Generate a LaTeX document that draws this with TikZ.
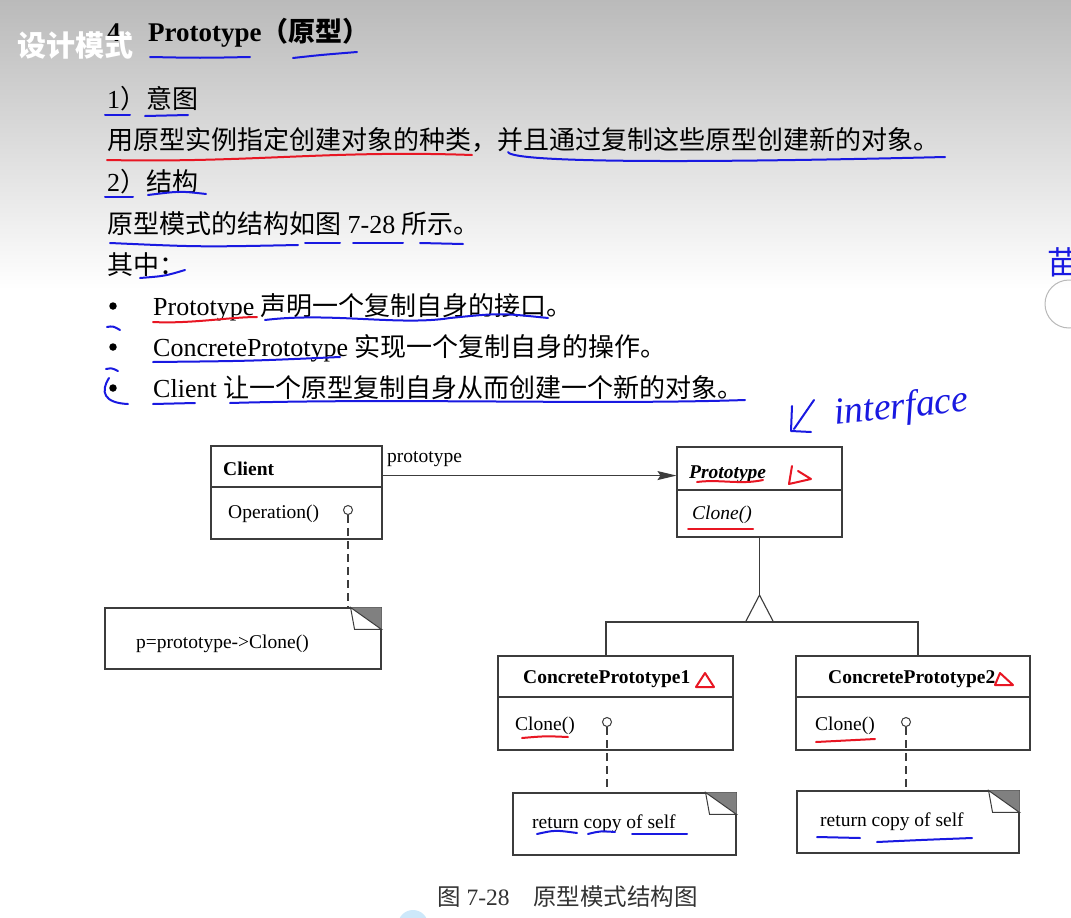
\documentclass[tikz,border=0pt]{standalone}
\usepackage{fontspec}
\setmainfont{Liberation Serif}
\newfontfamily\cjk{Noto Sans CJK SC}
\usetikzlibrary{arrows.meta, calc}
\definecolor{umlGray}{RGB}{60,60,60}
\definecolor{foldGray}{RGB}{128,128,128}
\definecolor{handBlue}{RGB}{25,25,225}
\definecolor{handRed}{RGB}{232,22,35}
\definecolor{blobBlue}{RGB}{205,232,250}
\newcommand{\notefold}[1]{%
    \fill[foldGray] ([xshift=-31pt]#1.north east) -- (#1.north east) -- ([yshift=-22pt]#1.north east) -- cycle;
    \filldraw[fill=white, draw=umlGray, line width=1pt] ([xshift=-31pt]#1.north east) -- ([xshift=-27pt,yshift=-22pt]#1.north east) -- ([yshift=-22pt]#1.north east) -- cycle;}

\begin{document}
\begin{tikzpicture}[
    x=1pt, y=-1pt,
    font=\fontsize{19.5}{22}\selectfont,
    body/.style={anchor=base west, inner sep=0pt, font=\fontsize{26}{30}\selectfont},
    umltext/.style={anchor=base west, inner sep=0pt},
    umlline/.style={draw=umlGray, line width=1.1pt},
    classbox/.style={umlline, inner sep=0pt},
    notebox/.style={umlline, inner sep=0pt, fill=white},
    opdot/.style={circle, umlline, line width=1pt, fill=white, inner sep=0pt, minimum size=9pt},
    bulletdot/.style={circle, fill=black, inner sep=0pt, minimum size=7.5pt},
    inkblue/.style={draw=handBlue, line width=2pt, line cap=round, line join=round},
    inkred/.style={draw=handRed, line width=2pt, line cap=round, line join=round}
]
    \useasboundingbox (0,0) rectangle (1071,918);
    \clip (0,0) rectangle (1071,918);
    \shade[top color=black!27, bottom color=white] (0,0) rectangle (1071,290);
    \fill[white] (0,290) rectangle (1071,918);

    % slide text
    \node[body, font=\fontsize{27}{30}\selectfont\bfseries] (title_num) at (107,41) {4};
    \node[anchor=base west, inner sep=0pt, text=white, font=\cjk\bfseries\fontsize{29}{30}\selectfont] (topic) at (17,56) {设计模式};
    \node[body, font=\fontsize{27}{30}\selectfont\bfseries] (title) at (148,41) {Prototype{\cjk\bfseries（原型）}};
    \node[body] (intent_head) at (107,108) {1{\cjk）意图}};
    \node[body] (intent_text) at (107,149) {\cjk 用原型实例指定创建对象的种类，并且通过复制这些原型创建新的对象。};
    \node[body] (struct_head) at (107,191) {2{\cjk）结构}};
    \node[body] (struct_text) at (107,233) {{\cjk 原型模式的结构如图} 7-28 {\cjk 所示。}};
    \node[body] (where_text) at (107,274) {\cjk 其中：};
    \foreach \yy/\name in {315/proto, 356/concrete, 397/client} {
        \node[bulletdot] (dot_\name) at (113,\yy-9) {};
    }
    \node[body] (item_proto) at (153,315) {Prototype {\cjk 声明一个复制自身的接口。}};
    \node[body] (item_concrete) at (153,356) {ConcretePrototype {\cjk 实现一个复制自身的操作。}};
    \node[body] (item_client) at (153,397) {Client {\cjk 让一个原型复制自身从而创建一个新的对象。}};

    % class diagram
    \node[classbox, minimum width=171pt, minimum height=93pt] (client) at (296.5,492.5) {};
    \draw[umlline] (client.west |- 0,487) -- (client.east |- 0,487);
    \node[umltext, font=\fontsize{19.5}{22}\selectfont\bfseries] (client_name) at (223,475) {Client};
    \node[umltext] (client_op) at (228,518) {Operation()};
    \node[opdot] (op_client) at (348,510) {};

    \node[classbox, minimum width=165pt, minimum height=90pt] (proto) at (759.5,492) {};
    \draw[umlline] (proto.west |- 0,490) -- (proto.east |- 0,490);
    \node[umltext, font=\fontsize{19.5}{22}\selectfont\bfseries\itshape] (proto_name) at (689,478) {Prototype};
    \node[umltext, font=\fontsize{19.5}{22}\selectfont\itshape] (proto_op) at (692,519) {Clone()};

    \node[classbox, minimum width=235pt, minimum height=94pt] (cp_one) at (615.5,703) {};
    \draw[umlline] (cp_one.west |- 0,697) -- (cp_one.east |- 0,697);
    \node[umltext, font=\fontsize{19.5}{22}\selectfont\bfseries] (cp_one_name) at (523,683) {ConcretePrototype1};
    \node[umltext] (cp_one_op) at (515,730) {Clone()};
    \node[opdot] (op_one) at (607,722) {};

    \node[classbox, minimum width=234pt, minimum height=94pt] (cp_two) at (913,703) {};
    \draw[umlline] (cp_two.west |- 0,697) -- (cp_two.east |- 0,697);
    \node[umltext, font=\fontsize{19.5}{22}\selectfont\bfseries] (cp_two_name) at (828,683) {ConcretePrototype2};
    \node[umltext] (cp_two_op) at (815,730) {Clone()};
    \node[opdot] (op_two) at (906,722) {};

    \node[notebox, minimum width=276pt, minimum height=61pt] (note_client) at (243,638.5) {};
    \node[umltext] (note_client_txt) at (136,648) {p=prototype->Clone()};
    \notefold{note_client}
    \node[notebox, minimum width=223pt, minimum height=62pt] (note_one) at (624.5,824) {};
    \node[umltext] (note_one_txt) at (532,828) {return copy of self};
    \notefold{note_one}
    \node[notebox, minimum width=222pt, minimum height=62pt] (note_two) at (908,822) {};
    \node[umltext] (note_two_txt) at (820,826) {return copy of self};
    \notefold{note_two}

    \draw[umlline, dash pattern=on 8pt off 5pt] (op_client) -- (op_client |- note_client.north);
    \draw[umlline, dash pattern=on 8pt off 5pt] (op_one) -- (op_one |- note_one.north);
    \draw[umlline, dash pattern=on 8pt off 5pt] (op_two) -- (op_two |- note_two.north);

    \draw[umlline, -{Stealth[length=19pt, width=9pt, inset=3pt]}] ($(client.north east)!0.32!(client.south east)$) coordinate (assoc_start) -- (assoc_start -| proto.west);
    \node[umltext] (assoc_label) at (387,462) {prototype};

    \coordinate (apex) at (759.5,595);
    \coordinate (branch) at (759.5,622);
    \draw[umlline] (proto.south) -- (apex);
    \draw[umlline, line join=miter] ([xshift=-14pt]branch) -- (apex) -- ([xshift=14pt]branch);
    \draw[umlline] ([xshift=-9.5pt]cp_one.north) |- (branch) -| ([xshift=5pt]cp_two.north);

    % pen marks
    \draw[inkblue] (150,57) .. controls (200,58) .. (250,57);
    \draw[inkblue] (293,58) .. controls (320,55) .. (357,52);
    \draw[inkblue] (105,115) -- (130,115);
    \draw[inkblue] (145,116) -- (188,115);
    \draw[inkred] (107,160) .. controls (250,163) and (330,150) .. (472,155);
    \draw[inkblue] (508,152) .. controls (512,163) and (700,163) .. (945,157);
    \draw[inkblue] (105,197) -- (133,197);
    \draw[inkblue] (148,195) .. controls (180,191) .. (206,194);
    \draw[inkblue] (110,243) .. controls (200,247) .. (298,245);
    \draw[inkblue] (305,243) -- (340,243);
    \draw[inkblue] (353,243) -- (403,243);
    \draw[inkblue] (420,243) -- (463,244);
    \draw[inkblue] (140,278) .. controls (165,276) .. (185,270);
    \draw[inkred] (153,322) .. controls (190,324) and (230,317) .. (257,317);
    \draw[inkblue] (265,320) .. controls (330,312) and (400,326) .. (450,318) .. controls (500,313) .. (548,318);
    \draw[inkblue] (153,362) .. controls (250,361) .. (340,357);
    \draw[inkblue] (107,327) .. controls (113,326) .. (120,330);
    \draw[inkblue] (106,369) .. controls (112,368) .. (118,371);
    \draw[inkblue] (109,378) .. controls (100,392) and (104,403) .. (128,404);
    \draw[inkblue] (153,404) -- (195,403);
    \draw[inkblue] (230,403) .. controls (400,398) and (600,405) .. (745,400);

    \draw[inkblue] (814,400) -- (794,429);
    \draw[inkblue] (792,406) -- (791,431) -- (811,432);
    \node[anchor=base west, inner sep=0pt, text=handBlue, rotate=6, font=\fontsize{38}{40}\selectfont\itshape] (ink_iface) at (835,425) {interface};
    \node[text=handBlue, inner sep=0pt, font=\cjk\fontsize{32}{32}\selectfont] (ink_char) at (1063,262) {苗};
    \draw[gray!55, line width=1pt] (1069,304) circle (24);

    \draw[inkred] (697,482) .. controls (720,479) and (740,485) .. (763,480);
    \draw[inkred] (792,466) -- (789,484) -- (811,479) -- (798,471);
    \draw[inkred] (688,529) -- (753,529);
    \draw[inkred] (705,673) -- (696,687) -- (714,687) -- cycle;
    \draw[inkred] (522,738) .. controls (545,736) .. (568,737);
    \draw[inkred] (1000,673) -- (995,685) -- (1013,685) -- cycle;
    \draw[inkred] (816,742) -- (875,739);
    \draw[inkblue] (537,834) .. controls (555,830) .. (577,833);
    \draw[inkblue] (588,834) .. controls (600,831) .. (615,832);
    \draw[inkblue] (632,834) -- (687,834);
    \draw[inkblue] (817,837) -- (860,838);
    \draw[inkblue] (877,842) .. controls (920,840) .. (972,838);

    \node[anchor=base west, inner sep=0pt, text=black!80, font=\fontsize{23.5}{26}\selectfont] (caption) at (437,905) {{\cjk 图} 7-28{\cjk 　原型模式结构图}};
    \fill[blobBlue] (413,925) circle (15);
\end{tikzpicture}
\end{document}
